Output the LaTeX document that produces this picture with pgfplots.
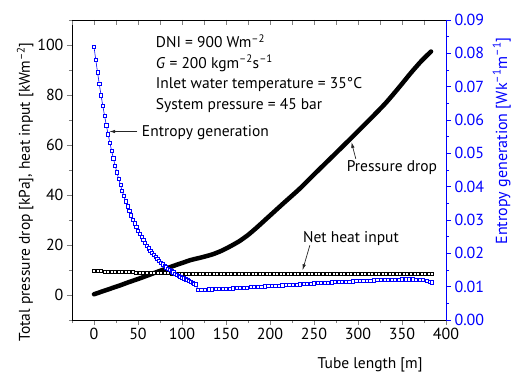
\documentclass[border=0pt]{standalone}
\usepackage{fontspec}
\setmainfont{PT Sans}
\usepackage{pgfplots}
\pgfplotsset{compat=1.18}
\usetikzlibrary{arrows.meta}
\definecolor{eblue}{RGB}{0,0,255}
\newcommand{\sstr}[1]{\textsuperscript{#1}}
\tikzset{
  lab/.style={font=\fontsize{15.5}{18}\selectfont},
  arr/.style={-{Latex[length=6pt,width=3.5pt]}, line width=0.7pt, black!85}
}
\begin{document}
\begin{tikzpicture}
\pgfplotsset{
  base/.style={scale only axis, width=374pt, height=300pt, xmin=-25, xmax=400,
    /pgf/number format/assume math mode=true,
    tick label style={font=\fontsize{16}{18}\selectfont},
    label style={font=\fontsize{15.5}{18}\selectfont},
    major tick length=5pt, minor tick length=3pt,
    axis line style={line width=0.9pt},
    tick style={line width=0.8pt},
    clip=false}
}
% ---------- left axis ----------
\begin{axis}[base, ymin=-10, ymax=110,
  axis x line*=bottom, axis y line*=left, tick align=outside,
  xtick={0,50,...,400}, minor xtick={-25,25,75,125,175,225,275,325,375},
  ytick={0,20,...,100}, minor ytick={-10,10,30,50,70,90,110},
  xlabel={Tube length [m]},
  ylabel={Total pressure drop [kPa], heat input [kWm\sstr{--2}]},
  xlabel style={at={(axis description cs:0.797,-0.15)}, anchor=center},
  ylabel style={at={(axis description cs:-0.125,0.427)}, anchor=center}]
% Net heat input
\addplot[only marks, mark=square*, mark size=1.5pt, mark options={fill=white, draw=black, line width=0.6pt}] table {
x y
0 9.60
4 9.56
8 9.51
12 9.47
16 9.43
20 9.38
24 9.34
28 9.30
32 9.25
36 9.21
40 9.17
44 9.12
48 9.08
52 9.04
56 8.99
60 8.95
64 8.91
68 8.86
72 8.82
76 8.78
80 8.73
84 8.69
88 8.65
92 8.60
96 8.56
100 8.52
104 8.47
108 8.43
112 8.39
116 8.34
120 8.30
124 8.30
128 8.30
132 8.30
136 8.30
140 8.30
144 8.30
148 8.30
152 8.30
156 8.30
160 8.30
164 8.30
168 8.30
172 8.30
176 8.30
180 8.30
184 8.30
188 8.30
192 8.30
196 8.30
200 8.30
204 8.30
208 8.30
212 8.30
216 8.30
220 8.30
224 8.30
228 8.30
232 8.30
236 8.30
240 8.30
244 8.30
248 8.30
252 8.30
256 8.30
260 8.30
264 8.30
268 8.30
272 8.30
276 8.30
280 8.30
284 8.30
288 8.30
292 8.30
296 8.30
300 8.30
304 8.30
308 8.30
312 8.30
316 8.30
320 8.30
324 8.30
328 8.30
332 8.30
336 8.30
340 8.30
344 8.30
348 8.30
352 8.30
356 8.30
360 8.30
364 8.30
368 8.30
372 8.30
376 8.30
380 8.30
384 8.30
};
% Pressure drop
\addplot[black, line width=4.5pt, line cap=round, line join=round, smooth, tension=0.4] table {
x y
0 0.3
10 1.5
20 2.7
30 3.9
40 5.2
50 6.4
60 7.7
70 9.0
80 10.3
90 11.6
100 12.8
110 14.0
117 14.6
125 15.3
135 16.3
145 17.7
155 19.5
165 21.5
175 24.0
185 27.0
200 31.8
215 36.6
234 42.6
250 48.2
275 56.8
290 62.0
310 69.0
331 76.6
347 83.2
360 88.8
372 93.6
383 97.4
};
\node[lab, anchor=base west] at (axis cs:66.4,98.9) {DNI = 900 Wm\sstr{--2}};
\node[lab, anchor=base west] at (axis cs:66.4,90.8) {\textit{G} = 200 kgm\sstr{--2}s\sstr{--1}};
\node[lab, anchor=base west] at (axis cs:66.4,82.6) {Inlet water temperature = 35°C};
\node[lab, anchor=base west] at (axis cs:66.4,74.3) {System pressure = 45 bar};
\draw[arr] (axis cs:49.4,65.4) -- (axis cs:17.3,65.4);
\node[lab, anchor=base west] at (axis cs:50.5,63.3) {Entropy generation};
\node[lab, anchor=base] at (axis cs:338.6,49.3) {Pressure drop};
\draw[arr] (axis cs:297.5,54.5) -- (axis cs:292.5,61.2);
\node[lab, anchor=base] at (axis cs:292,21.2) {Net heat input};
\draw[arr] (axis cs:245.3,19.9) -- (axis cs:237,9.9);
\end{axis}
% ---------- top ticks ----------
\begin{axis}[base, ymin=0, ymax=1, axis x line*=top, axis y line=none,
  tick align=inside, xtick={-25,0,...,400}, xticklabels={}]
\end{axis}
% ---------- right axis ----------
\begin{axis}[base, ymin=0, ymax=0.09,
  axis y line*=right, axis x line=none, tick align=outside,
  ytick={0,0.01,0.02,0.03,0.04,0.05,0.06,0.07,0.08,0.09},
  minor ytick={0.005,0.015,0.025,0.035,0.045,0.055,0.065,0.075,0.085},
  scaled y ticks=false,
  y axis line style={eblue}, y tick style={eblue},
  yticklabel style={eblue},
  /pgf/number format/fixed, /pgf/number format/fixed zerofill, /pgf/number format/precision=2,
  ylabel={Entropy generation [Wk\sstr{--1}m\sstr{--1}]},
  ylabel style={eblue, font=\fontsize{16}{18}\selectfont, at={(axis description cs:1.149,0.597)}, anchor=center}]
\addplot[eblue, line width=0.6pt, mark=square*, mark size=1.6pt, mark options={fill=white, draw=eblue, line width=0.6pt}] table {
x y
0 .0820
2 .07805
4 .07432
6 .07078
8 .06744
10 .06427
12 .06127
14 .05843
16 .05574
18 .05319
20 .05078
22 .04850
24 .04634
26 .04430
28 .04236
30 .04053
32 .03880
34 .03715
36 .03560
38 .03413
40 .03274
42 .03142
44 .03017
46 .02899
48 .02787
50 .02681
52 .02580
54 .02486
56 .02396
58 .02311
60 .02230
62 .02154
64 .02082
66 .02013
68 .01949
70 .01887
72 .01829
74 .01774
76 .01722
78 .01673
80 .01627
82 .01583
84 .01541
86 .01501
88 .01464
90 .01429
92 .01395
94 .01363
96 .01333
98 .01305
100 .01278
102 .01250
104 .01222
106 .01196
108 .01170
110 .01145
112 .01120
114 .01096
116 .01070
118 .00910
122 .00913
126 .00917
130 .00920
134 .00924
138 .00928
142 .00932
146 .00936
150 .00940
154 .00946
158 .00953
162 .00959
166 .00966
170 .00972
174 .00978
178 .00985
182 .00991
186 .00998
190 .01004
194 .01010
198 .01017
202 .01023
206 .01030
210 .01036
214 .01042
218 .01049
222 .01055
226 .01062
230 .01068
234 .01074
238 .01081
242 .01087
246 .01094
250 .01100
254 .01106
258 .01113
262 .01119
266 .01126
270 .01132
274 .01138
278 .01144
282 .01148
286 .01153
290 .01158
294 .01163
298 .01167
302 .01172
306 .01177
310 .01182
314 .01186
318 .01190
322 .01196
326 .01201
330 .01204
334 .01207
338 .01210
342 .01214
346 .01217
350 .01220
354 .01220
358 .01220
362 .01220
366 .01216
370 .01210
374 .01197
378 .01180
382 .01150
384 .01130
};
\end{axis}
\pgfresetboundingbox
\useasboundingbox (-72pt,-56pt) rectangle (441pt,320pt);
\end{tikzpicture}
\end{document}
